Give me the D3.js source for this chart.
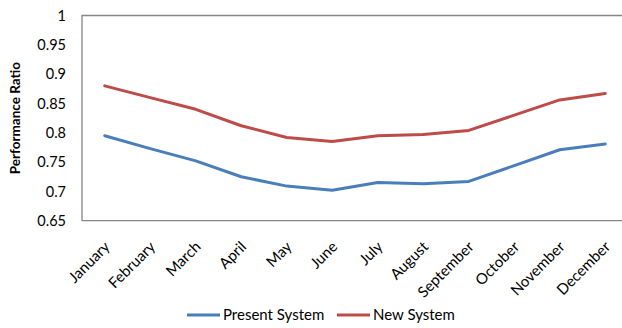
<!DOCTYPE html>
<html>
<head>
<meta charset="utf-8">
<script src="https://cdn.jsdelivr.net/npm/d3@7"></script>
<style>
  html, body { margin: 0; padding: 0; background: #fff; }
  svg { display: block; font-family: Lato, "Open Sans", sans-serif; }
</style>
</head>
<body>
<svg id="chart" width="622" height="328"></svg>
<script>
// Monthly performance ratio of the two systems
const months = ["January", "February", "March", "April", "May", "June",
                "July", "August", "September", "October", "November", "December"];
const presentSystem = [0.795, 0.773, 0.752, 0.725, 0.709, 0.702,
                       0.715, 0.713, 0.717, 0.744, 0.771, 0.781];
const newSystem = [0.880, 0.860, 0.840, 0.812, 0.792, 0.785,
                   0.795, 0.797, 0.804, 0.830, 0.856, 0.867];
const yTicks = [0.65, 0.7, 0.75, 0.8, 0.85, 0.9, 0.95, 1];
const seriesNames = ["Present System", "New System"];
const seriesColors = ["#4a7ebb", "#be4b48"];

const svg = d3.select("#chart");
const plot = { left: 82, top: 15.5, right: 628, bottom: 220.7 };

const x = d3.scaleBand().domain(months).range([plot.left, plot.right]);
const y = d3.scaleLinear().domain([0.65, 1]).range([plot.bottom, plot.top]);

// plot frame (left, top, bottom)
svg.append("path")
  .attr("d", `M${plot.right},${plot.top}H${plot.left}V${plot.bottom}H${plot.right}`)
  .attr("fill", "none").attr("stroke", "#868686").attr("stroke-width", 1.3);

// y axis labels
const yAxis = d3.axisLeft(y).tickValues(yTicks).tickSize(0).tickPadding(16)
  .tickFormat(d => d3.format("")(+d.toFixed(2)));
const gy = svg.append("g").attr("transform", `translate(${plot.left},0)`).call(yAxis);
gy.select(".domain").remove();
gy.selectAll("text").attr("font-size", 14.5).attr("fill", "#000")
  .attr("font-family", "Lato, 'Open Sans', sans-serif");

// x axis labels, rotated
const xAxis = d3.axisBottom(x).tickSize(0).tickPadding(0);
const gx = svg.append("g").attr("transform", `translate(0,${plot.bottom})`).call(xAxis);
gx.select(".domain").remove();
gx.selectAll("text")
  .attr("font-size", 15).attr("fill", "#000")
  .attr("font-family", "Lato, 'Open Sans', sans-serif")
  .attr("text-anchor", "end")
  .attr("dy", 0)
  .attr("transform", "translate(6,27) rotate(-45)");

// axis title
svg.append("text")
  .attr("transform", `translate(20,${(plot.top + plot.bottom) / 2}) rotate(-90)`)
  .attr("text-anchor", "middle")
  .attr("font-size", 13.5).attr("font-weight", "bold")
  .text("Performance Ratio");

// series lines
const line = d3.line()
  .x((d, i) => x(months[i]) + x.bandwidth() / 2)
  .y(d => y(d));

[presentSystem, newSystem].forEach((vals, k) => {
  svg.append("path")
    .datum(vals)
    .attr("d", line)
    .attr("fill", "none")
    .attr("stroke", seriesColors[k])
    .attr("stroke-width", 3)
    .attr("stroke-linejoin", "round")
    .attr("stroke-linecap", "round");
});

// legend
const legendX = [187, 337];
seriesNames.forEach((name, k) => {
  const g = svg.append("g").attr("transform", `translate(${legendX[k]},315)`);
  g.append("line").attr("x1", 0).attr("x2", 33).attr("y1", 0).attr("y2", 0)
    .attr("stroke", seriesColors[k]).attr("stroke-width", 3);
  g.append("text").attr("x", 36).attr("y", 0).attr("dy", "0.35em")
    .attr("font-size", 15).text(name);
});
</script>
</body>
</html>
